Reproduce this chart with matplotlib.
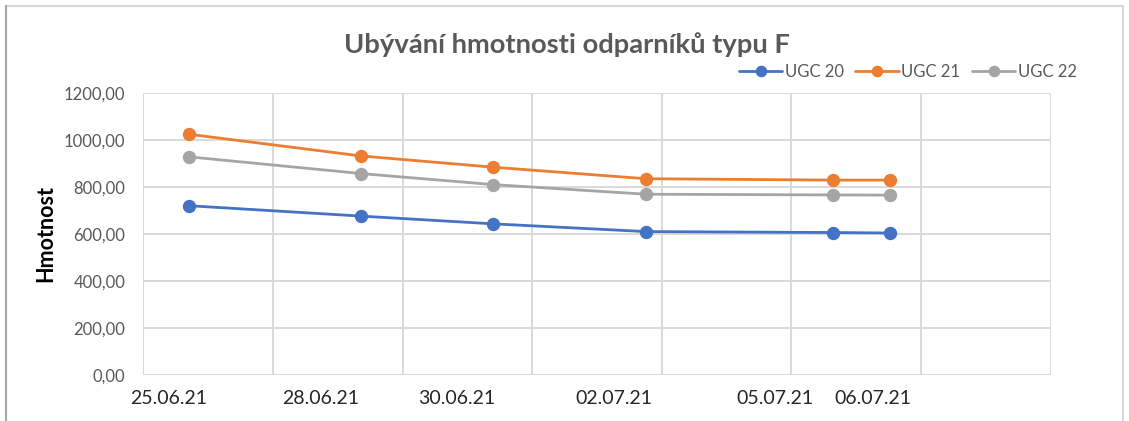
import matplotlib

matplotlib.use("Agg")
import matplotlib.pyplot as plt
from matplotlib.lines import Line2D
from matplotlib.ticker import FuncFormatter, MultipleLocator

plt.rcParams["font.family"] = ["Lato", "DejaVu Sans"]

# measurement points (x in chart units, the sheet used a plain scatter axis)
x_points = [0.355, 1.677, 2.698, 3.877, 5.324, 5.76]
ugc_20 = [719, 675, 642, 609, 605, 603]
ugc_21 = [1023, 931, 883, 834, 828, 828]
ugc_22 = [927, 856, 809, 768, 765, 764]

# date labels that sit under the axis
date_labels = ["25.06.21", "28.06.21", "30.06.21", "02.07.21", "05.07.21", "06.07.21"]
label_x = [0.199, 1.367, 2.42, 3.63, 4.87, 5.63]

series = [
    ("UGC 20", ugc_20, "#4472C4"),
    ("UGC 21", ugc_21, "#ED7D31"),
    ("UGC 22", ugc_22, "#A5A5A5"),
]

W, H = 1129, 421
fig = plt.figure(figsize=(W / 100, H / 100), dpi=100)
ax = fig.add_axes([143.3 / W, 1 - 374.7 / H, (1050.7 - 143.3) / W, (374.7 - 92.7) / H])

for name, values, color in series:
    ax.plot(x_points, values, color=color, lw=2.0, marker="o", ms=8.6,
            label=name, solid_capstyle="round", zorder=3)

ax.set_xlim(0, 7)
ax.set_ylim(0, 1200)
ax.xaxis.set_major_locator(MultipleLocator(1))
ax.yaxis.set_major_locator(MultipleLocator(200))
ax.xaxis.set_major_formatter(FuncFormatter(lambda v, p: ""))
ax.set_xticks(label_x, minor=True)
ax.set_xticklabels(date_labels, minor=True)
ax.yaxis.set_major_formatter(FuncFormatter(lambda v, p: f"{v:.2f}".replace(".", ",")))

ax.grid(True, color="#D9D9D9", lw=1.4)
ax.set_axisbelow(True)
for s in ax.spines.values():
    s.set_visible(False)
ax.tick_params(axis="x", which="both", length=0)
ax.tick_params(axis="x", which="minor", pad=11, labelsize=14, labelcolor="#262626")
ax.tick_params(axis="y", length=0, pad=13, labelsize=12, labelcolor="#595959")

fig.text(567 / W, 1 - 45 / H, "Ubývání hmotnosti odparníků typu F",
         ha="center", va="center", fontsize=19.7, fontweight="bold", color="#595959")
fig.text(46 / W, 1 - 234 / H, "Hmotnost", rotation=90, ha="center", va="center",
         fontsize=15.5, fontweight="bold", color="black")

fig.legend(loc="center right", bbox_to_anchor=(1085 / W, 1 - 72 / H), ncol=3,
           frameon=False, fontsize=12, labelcolor="#595959", handlelength=2.6,
           handletextpad=0.15, columnspacing=0.7, markerscale=0.85, borderpad=0)

# chart area outline, cut off at the bottom like the screenshot
fig.add_artist(Line2D([6 / W, 1123 / W], [1 - 6 / H, 1 - 6 / H], color="#D9D9D9", lw=1.5))
fig.add_artist(Line2D([1123 / W, 1123 / W], [0, 1 - 6 / H], color="#D9D9D9", lw=1.5))
fig.add_artist(Line2D([6 / W, 6 / W], [0, 1 - 6 / H], color="#A6A6A6", lw=1.5))

fig.savefig("out.png", dpi=100)
